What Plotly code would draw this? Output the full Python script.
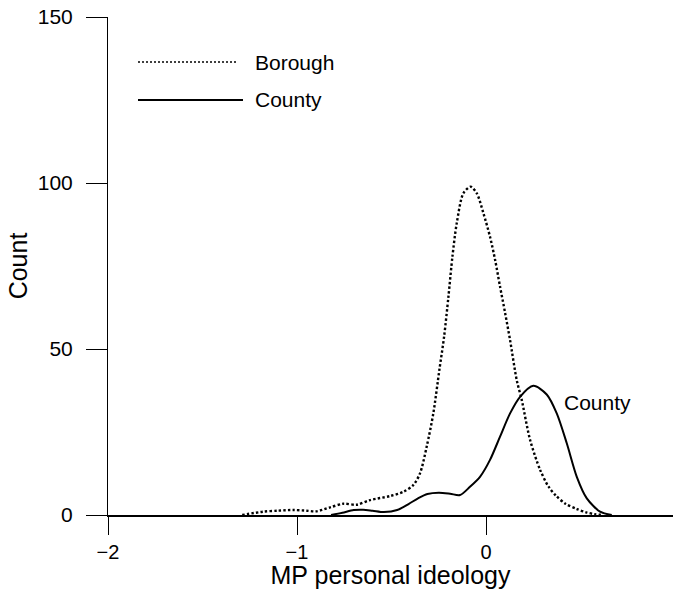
import plotly.graph_objects as go

# Borough density (dotted)
borough_x = [-1.29, -1.18, -1.10, -1.02, -0.95, -0.90, -0.825, -0.755, -0.684, -0.614,
             -0.508, -0.437, -0.385, -0.349, -0.314, -0.279, -0.247, -0.222, -0.199,
             -0.178, -0.155, -0.12, -0.081, -0.049, -0.014, 0.021, 0.048, 0.074, 0.101,
             0.127, 0.162, 0.189, 0.233, 0.286, 0.33, 0.37, 0.42, 0.48, 0.53, 0.575, 0.62]
borough_y = [0, 1.0, 1.3, 1.5, 1.3, 1.1, 2.3, 3.4, 3.1, 4.5,
             5.7, 7.0, 9.0, 12.6, 20.6, 30.6, 43.7, 53.7, 65.8,
             77.8, 87.9, 96.9, 98.9, 96.9, 90.9, 83.8, 76.8, 68.8, 60.8,
             52.7, 40.7, 34.6, 22.6, 13.6, 8.6, 5.8, 3.4, 1.8, 0.8, 0.25, 0]

# County density (solid)
county_x = [-0.82, -0.76, -0.70, -0.65, -0.60, -0.54, -0.47, -0.41, -0.36, -0.31,
            -0.25, -0.19, -0.138, -0.085, -0.032, 0.021, 0.074, 0.127, 0.18, 0.25, 0.321,
            0.374, 0.427, 0.48, 0.533, 0.603, 0.665]
county_y = [0, 0.7, 1.5, 1.6, 1.3, 0.9, 1.5, 3.3, 5.0, 6.3,
            6.7, 6.4, 6.0, 8.5, 11.5, 16.6, 23.6, 30.6, 35.6, 38.9, 36.3,
            30.6, 21.6, 11.5, 5.0, 1.0, 0]

x_ticks = [-2, -1, 0, 1]
y_ticks = [0, 50, 100, 150]

FONT = "Liberation Sans, Arial, Helvetica, sans-serif"
FS = 21
TFS = 20

fig = go.Figure()
fig.add_trace(go.Scatter(x=borough_x, y=borough_y, mode="lines", name="Borough",
                         line=dict(color="black", width=2.4, dash="2.4px,2.2px",
                                   shape="spline", smoothing=0.8),
                         showlegend=False))
fig.add_trace(go.Scatter(x=county_x, y=county_y, mode="lines", name="County",
                         line=dict(color="black", width=2, shape="spline", smoothing=0.8),
                         showlegend=False))

L, T, W, H = 108, 17, 673, 589
B = 74
pw, ph = W - L, H - T - B

def px(xp):
    return (xp - L) / pw

def py(yp):
    return (T + ph - yp) / ph

# manual legend
fig.add_shape(type="line", xref="paper", yref="paper", x0=px(138), x1=px(238),
              y0=py(62), y1=py(62), line=dict(color="black", width=1.6, dash="2px,2px"))
fig.add_shape(type="line", xref="paper", yref="paper", x0=px(138), x1=px(243),
              y0=py(100), y1=py(100), line=dict(color="black", width=2))
fig.add_annotation(xref="paper", yref="paper", x=px(253), y=py(62), text="Borough",
                   showarrow=False, xanchor="left", yanchor="middle",
                   font=dict(family=FONT, size=FS, color="black"))
fig.add_annotation(xref="paper", yref="paper", x=px(253), y=py(100), text="County",
                   showarrow=False, xanchor="left", yanchor="middle",
                   font=dict(family=FONT, size=FS, color="black"))
# curve label
fig.add_annotation(x=0.40, y=34, text="County", showarrow=False, xanchor="left",
                   yanchor="middle", font=dict(family=FONT, size=FS, color="black"))

fig.update_layout(
    width=W, height=H, autosize=False,
    margin=dict(l=L, r=0, t=T, b=B, pad=0),
    paper_bgcolor="white", plot_bgcolor="white",
    font=dict(family=FONT, size=FS, color="black"),
    xaxis=dict(range=[-2, 0.989], tickvals=x_ticks, ticks="outside", ticklen=18,
               tickwidth=1, tickcolor="black", showline=True, linecolor="black",
               linewidth=1.5, showgrid=False, zeroline=False, ticklabelstandoff=0,
               title=dict(text="MP personal ideology", standoff=5),
               tickfont=dict(size=TFS)),
    yaxis=dict(range=[0, 150], tickvals=y_ticks, ticks="outside", ticklen=21,
               tickwidth=1, tickcolor="black", showline=True, linecolor="black",
               linewidth=1, showgrid=False, zeroline=False, ticklabelstandoff=9,
               title=dict(text="Count", standoff=3),
               tickfont=dict(size=FS)),
)

fig.write_html("out.html", post_script="document.body.style.margin='0';",
               config={"displayModeBar": False})
